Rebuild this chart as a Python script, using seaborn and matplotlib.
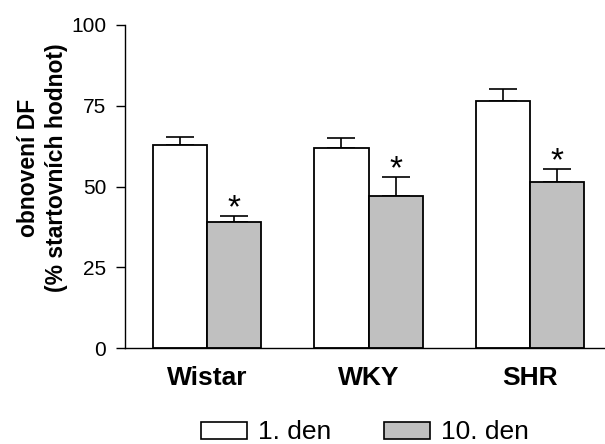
import numpy as np
import pandas as pd
import matplotlib
matplotlib.use("Agg")
import matplotlib.pyplot as plt
import seaborn as sns

strains = ["Wistar", "WKY", "SHR"]
days = ["1. den", "10. den"]
day1_mean = [63.0, 62.0, 76.5]
day1_sem = [2.2, 3.0, 3.7]
day10_mean = [39.0, 47.0, 51.5]
day10_sem = [2.0, 6.0, 4.0]
significant = [False, True]  # asterisk over the 10th-day bars
bar_colors = ["#FFFFFF", "#C0C0C0"]
yticks = [0, 25, 50, 75, 100]

sns.set_theme(style="ticks")
plt.rcParams["font.family"] = ["Liberation Sans", "DejaVu Sans"]
plt.rcParams["text.color"] = "black"
plt.rcParams["axes.labelcolor"] = "black"
plt.rcParams["xtick.color"] = "black"
plt.rcParams["ytick.color"] = "black"

df = pd.DataFrame({
    "kmen": strains * 2,
    "den": [days[0]] * 3 + [days[1]] * 3,
    "hodnota": day1_mean + day10_mean,
})

fig = plt.figure(figsize=(6.05, 4.44), dpi=100)
ax = fig.add_axes([0.2066, 0.216, 0.7934, 0.7277])

sns.barplot(data=df, x="kmen", y="hodnota", hue="den", order=strains,
            hue_order=days, palette=bar_colors, edgecolor="black",
            linewidth=1.3, width=0.67, errorbar=None, ax=ax, zorder=2)

bar_groups = list(ax.containers)
sems = [day1_sem, day10_sem]
means = [day1_mean, day10_mean]
for k, cont in enumerate(bar_groups):
    for bar, m, s in zip(cont, means[k], sems[k]):
        xc = bar.get_x() + bar.get_width() / 2
        ax.errorbar(xc, m, yerr=[[0], [s]], fmt="none", ecolor="black",
                    elinewidth=1.2, capsize=10, capthick=1.2, zorder=1)
        if significant[k]:
            ax.annotate("*", xy=(xc, m + s), xytext=(0, -1),
                        textcoords="offset points", ha="center",
                        va="baseline", fontsize=24, color="black")

ax.set_ylim(0, 100)
ax.set_xlim(-0.508, 2.464)
ax.set_yticks(yticks)
ax.set_yticklabels([str(v) for v in yticks], fontsize=15)
ax.tick_params(axis="y", length=6.5, width=1.0, pad=7, colors="black")
ax.tick_params(axis="x", length=0, pad=13, colors="black")
for lab in ax.get_xticklabels():
    lab.set_fontsize(19)
    lab.set_fontweight("bold")
ax.set_xlabel("")
ax.set_ylabel("obnovení DF\n(% startovních hodnot)", fontsize=16.5,
              fontweight="bold", linespacing=1.3, color="black")
ax.yaxis.set_label_coords(-0.118, 0.557)
sns.despine(ax=ax)
for sp in ["left", "bottom"]:
    ax.spines[sp].set_color("black")
    ax.spines[sp].set_linewidth(1.0)
ax.set_facecolor("white")

ax.legend_.remove()
handles = [plt.Rectangle((0, 0), 1, 1, facecolor=c, edgecolor="black",
                         linewidth=1.2) for c in bar_colors]
fig.legend(handles, days, loc="center", bbox_to_anchor=(0.603, 0.026),
           ncol=2, frameon=False, fontsize=19, handlelength=1.75,
           handleheight=0.6, handletextpad=0.4, columnspacing=2.0)

fig.savefig("out.png", dpi=100, facecolor="white")
